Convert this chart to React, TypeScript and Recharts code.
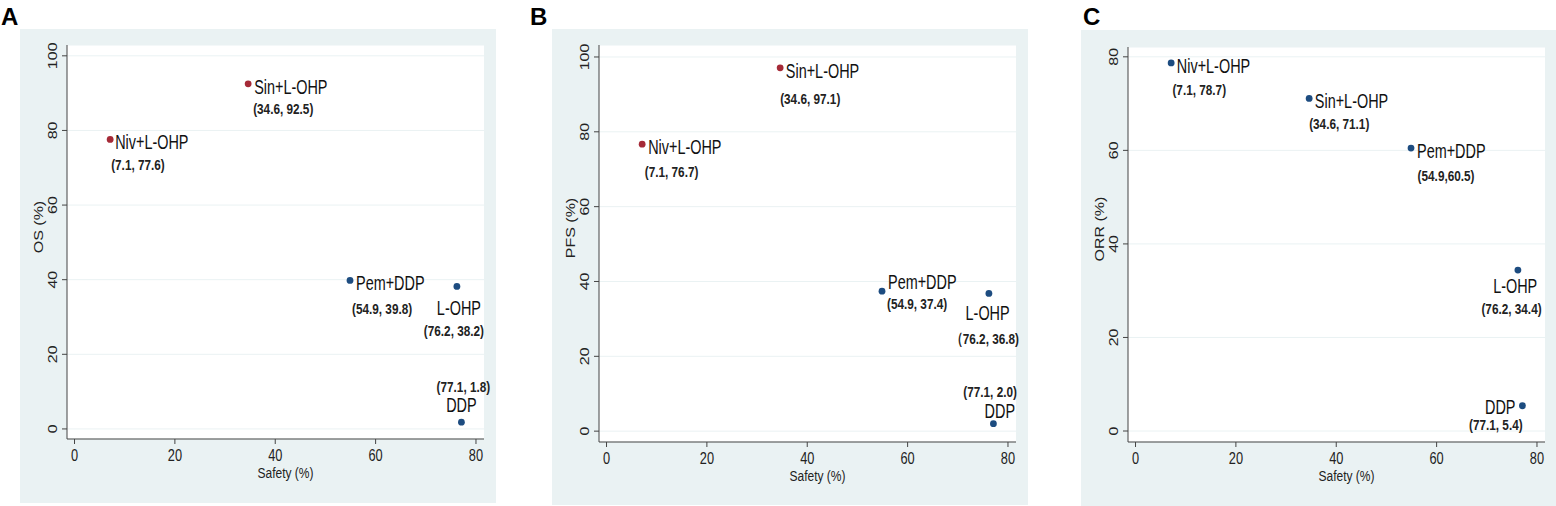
import { ScatterChart, Scatter, XAxis, YAxis, CartesianGrid, Label } from 'recharts'

// data
const REGIMENS = ['Niv+L-OHP', 'Sin+L-OHP', 'Pem+DDP', 'L-OHP', 'DDP']
const SAFETY = [7.1, 34.6, 54.9, 76.2, 77.1]
const OS = [77.6, 92.5, 39.8, 38.2, 1.8]
const PFS = [76.7, 97.1, 37.4, 36.8, 2.0]
const ORR = [78.7, 71.1, 60.5, 34.4, 5.4]
const OS_TEXT = ['(7.1, 77.6)', '(34.6, 92.5)', '(54.9, 39.8)', '(76.2, 38.2)', '(77.1, 1.8)']
const PFS_TEXT = ['(7.1, 76.7)', '(34.6, 97.1)', '(54.9, 37.4)', '（76.2, 36.8)', '(77.1, 2.0)']
const ORR_TEXT = ['(7.1, 78.7)', '(34.6, 71.1)', '(54.9,60.5)', '(76.2, 34.4)', '(77.1, 5.4)']
const HIGHLIGHTED = ['Niv+L-OHP', 'Sin+L-OHP']
const X_TICKS = [0, 20, 40, 60, 80]
const Y_TICKS_100 = [0, 20, 40, 60, 80, 100]
const Y_TICKS_80 = [0, 20, 40, 60, 80]

const FONT = '"Liberation Sans", Arial, sans-serif'
const BG = '#eaf2f3'
const AXIS = '#444'
const RED = '#a52a37'
const BLUE = '#1d4c80'

type Anchor = 'start' | 'middle' | 'end'
type Place = [number, number, Anchor]
type LabelPlace = { name: Place; coord: Place }

// label offsets from the dot centre (dx, baseline dy, anchor)
const LAYOUT_A: Record<string, LabelPlace> = {
  'Niv+L-OHP': { name: [5, 9.7, 'start'], coord: [1, 30.7, 'start'] },
  'Sin+L-OHP': { name: [6, 10.4, 'start'], coord: [5, 30, 'start'] },
  'Pem+DDP': { name: [6, 10, 'start'], coord: [2, 34, 'start'] },
  'L-OHP': { name: [2, 29, 'middle'], coord: [-3, 50, 'middle'] },
  'DDP': { name: [0, -10, 'middle'], coord: [2, -30, 'middle'] },
}
const LAYOUT_B: Record<string, LabelPlace> = {
  'Niv+L-OHP': { name: [6, 9.7, 'start'], coord: [2.6, 32.7, 'start'] },
  'Sin+L-OHP': { name: [5.7, 10.4, 'start'], coord: [0, 35.7, 'start'] },
  'Pem+DDP': { name: [6, -2, 'start'], coord: [5, 17.3, 'start'] },
  'L-OHP': { name: [-1.3, 26.4, 'middle'], coord: [-4, 50.7, 'middle'] },
  'DDP': { name: [6.4, -5.3, 'middle'], coord: [-3.3, -26.6, 'middle'] },
}
const LAYOUT_C: Record<string, LabelPlace> = {
  'Niv+L-OHP': { name: [5.7, 10.4, 'start'], coord: [1.3, 31.7, 'start'] },
  'Sin+L-OHP': { name: [5.7, 9.7, 'start'], coord: [0, 30.7, 'start'] },
  'Pem+DDP': { name: [6, 10.3, 'start'], coord: [6.6, 33, 'start'] },
  'L-OHP': { name: [-2.7, 22.7, 'middle'], coord: [-6.4, 43.7, 'middle'] },
  'DDP': { name: [-7, 8, 'end'], coord: [-26.6, 24, 'middle'] },
}

function toPoints(values: number[], texts: string[]) {
  return REGIMENS.map((name, i) => ({ name, x: SAFETY[i], y: values[i], coord: texts[i] }))
}

function XTick({ x, y, payload }: any) {
  return (
    <text transform={`translate(${x},${y + 15}) scale(0.8,1)`} textAnchor="middle"
      fontSize={16} fill="#222" fontFamily={FONT}>{payload.value}</text>
  )
}

function YTick({ x, y, payload }: any) {
  return (
    <text transform={`translate(${x - 3.5},${y}) rotate(-90) scale(1,0.8)`} textAnchor="middle"
      fontSize={16} fill="#222" fontFamily={FONT}>{payload.value}</text>
  )
}

function makeShape(layout: Record<string, LabelPlace>, color: string) {
  return (props: any) => {
    const { cx, cy, payload } = props
    const p = layout[payload.name]
    return (
      <g fontFamily={FONT}>
        <circle cx={cx} cy={cy} r={3.4} fill={color} />
        <text transform={`translate(${cx + p.name[0]},${cy + p.name[1]}) scale(0.74,1)`}
          textAnchor={p.name[2]} fontSize={19.5} fill="#111">{payload.name}</text>
        <text transform={`translate(${cx + p.coord[0]},${cy + p.coord[1]}) scale(0.76,1)`}
          textAnchor={p.coord[2]} fontSize={15.5} fontWeight="bold" fill="#222">{payload.coord}</text>
      </g>
    )
  }
}

const PANELS = [
  {
    letter: 'A', letterX: 1, left: 20, top: 29, width: 476, height: 474,
    margin: { top: 16, right: 12, bottom: 0, left: 0 }, xAxisHeight: 64,
    yLabel: 'OS (%)', yLabelY: 198, yDomain: [-2.7, 102.9], yTicks: Y_TICKS_100,
    points: toPoints(OS, OS_TEXT), highlight: true, layout: LAYOUT_A,
  },
  {
    letter: 'B', letterX: 530, left: 552, top: 29, width: 476, height: 476,
    margin: { top: 16, right: 12, bottom: 0, left: 0 }, xAxisHeight: 63,
    yLabel: 'PFS (%)', yLabelY: 199, yDomain: [-2.9, 103.2], yTicks: Y_TICKS_100,
    points: toPoints(PFS, PFS_TEXT), highlight: true, layout: LAYOUT_B,
  },
  {
    letter: 'C', letterX: 1083, left: 1081, top: 30, width: 475, height: 476,
    margin: { top: 17, right: 11, bottom: 0, left: 0 }, xAxisHeight: 64,
    yLabel: 'ORR (%)', yLabelY: 199, yDomain: [-2.35, 82.1], yTicks: Y_TICKS_80,
    points: toPoints(ORR, ORR_TEXT), highlight: false, layout: LAYOUT_C,
  },
]

function Panel({ panel }: { panel: (typeof PANELS)[number] }) {
  const red = panel.highlight ? panel.points.filter(p => HIGHLIGHTED.includes(p.name)) : []
  const blue = panel.highlight ? panel.points.filter(p => !HIGHLIGHTED.includes(p.name)) : panel.points
  const plotLeft = panel.margin.left + 47
  const plotRight = panel.width - panel.margin.right
  const plotBottom = panel.height - panel.xAxisHeight
  return (
    <div style={{ position: 'absolute', left: panel.left, top: panel.top, width: panel.width, height: panel.height, background: BG }}>
      <ScatterChart width={panel.width} height={panel.height} margin={panel.margin}>
        <CartesianGrid vertical={false} fill="#ffffff" fillOpacity={1} stroke={BG} strokeWidth={1} />
        <XAxis type="number" dataKey="x" domain={[-1.5, 81.6]} ticks={X_TICKS}
          height={panel.xAxisHeight} interval={0} tickSize={5} tickMargin={2}
          axisLine={{ stroke: AXIS }} tickLine={{ stroke: AXIS }} tick={<XTick />}>
          <Label content={() => (
            <text transform={`translate(${(plotLeft + plotRight) / 2 + 10},${plotBottom + 39}) scale(0.8,1)`}
              textAnchor="middle" fontSize={15} fill="#222" fontFamily={FONT}>Safety (%)</text>
          )} />
        </XAxis>
        <YAxis type="number" dataKey="y" domain={panel.yDomain} ticks={panel.yTicks}
          width={47} interval={0} tickSize={5} tickMargin={2}
          axisLine={{ stroke: AXIS }} tickLine={{ stroke: AXIS }} tick={<YTick />}>
          <Label content={() => (
            <text transform={`translate(${plotLeft - 24},${panel.yLabelY}) rotate(-90) scale(1,0.8)`}
              textAnchor="middle" fontSize={16} fill="#222" fontFamily={FONT}>{panel.yLabel}</text>
          )} />
        </YAxis>
        {red.length > 0 && (
          <Scatter data={red} isAnimationActive={false} shape={makeShape(panel.layout, RED)} />
        )}
        <Scatter data={blue} isAnimationActive={false} shape={makeShape(panel.layout, BLUE)} />
      </ScatterChart>
    </div>
  )
}

export default function App() {
  return (
    <div style={{ position: 'absolute', left: 0, top: 0, width: 1556, height: 506, background: '#fff', overflow: 'hidden' }}>
      {PANELS.map(p => <Panel key={p.letter} panel={p} />)}
      <svg width={1556} height={506} style={{ position: 'absolute', left: 0, top: 0, pointerEvents: 'none' }}>
        {PANELS.map(p => (
          <text key={p.letter} x={p.letterX} y={25} fontSize={24} fontWeight="bold" fill="#000" fontFamily={FONT}>{p.letter}</text>
        ))}
      </svg>
    </div>
  )
}
